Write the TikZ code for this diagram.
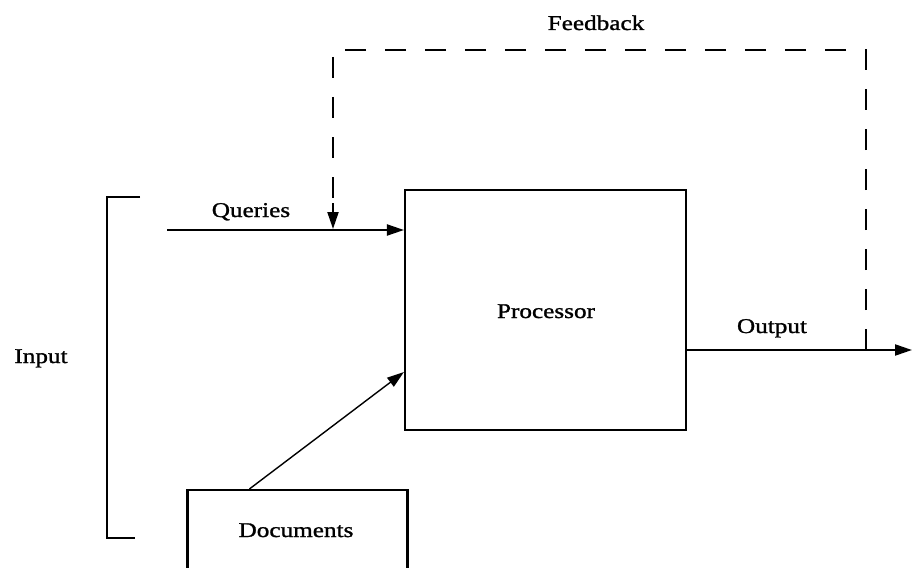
\documentclass[tikz,border=0pt]{standalone}
\usepackage{fontspec}
\setmainfont{Liberation Serif}[FakeStretch=1.2,FakeBold=1.2]
\usetikzlibrary{arrows.meta,calc}
\begin{document}
\begin{tikzpicture}[x=1pt,y=-1pt,
  line/.style={line width=2.1pt},
  tip/.style={-{Triangle[length=17pt,width=11pt]}},
  boxst/.style={draw,line width=2.1pt,rectangle,inner sep=0pt},
  lbl/.style={font=\fontsize{21}{25}\selectfont,anchor=base,inner sep=0pt}
]
\useasboundingbox (0,0) rectangle (912,567);
\clip (0,0) rectangle (912,567);
% boxes
\node[boxst,minimum width=281pt,minimum height=240pt] (proc) at (545.5,310) {};
\node[boxst,minimum width=220pt,minimum height=100pt] (docs) at (297.5,540) {};
% labels
\node[lbl] (tproc) at (546,318) {Processor};
\node[lbl] (tdocs) at (296,537) {Documents};
\node[lbl] (tin) at (41,363) {Input};
\node[lbl] (tq) at (251,217) {Queries};
\node[lbl] (tfb) at (596,30) {Feedback};
\node[lbl] (tout) at (772,333) {Output};
% coordinates
\coordinate (qs) at (167,230);
\coordinate (fb) at (866,350);
\coordinate (oe) at (912,350);
\coordinate (fbtop) at (866,50);
\coordinate (fbl) at (333,50);
\coordinate (fbend) at (333,229);
\coordinate (bt) at (107,197);
\coordinate (bb) at (107,538);
% queries
\draw[line,tip] (qs) -- (proc.west |- qs);
% output
\draw[line,tip] (proc.east |- oe) -- (oe);
% feedback
\draw[line,dash pattern=on 21pt off 19pt,dash phase=0pt] (fb) -- (fbtop) -- (fbl) -- ($(fbend)+(0,-30)$);
\draw[line,tip] ($(fbend)+(0,-26)$) -- (fbend);
% documents arrow
\draw[line width=1.4pt,tip] ($(docs.north west)+(63,0)$) -- ($(proc.west)+(0,62)$);
% input bracket
\draw[line] ($(bt)+(33,0)$) -- (bt) -- (bb) -- ($(bb)+(28,0)$);
\end{tikzpicture}
\end{document}
